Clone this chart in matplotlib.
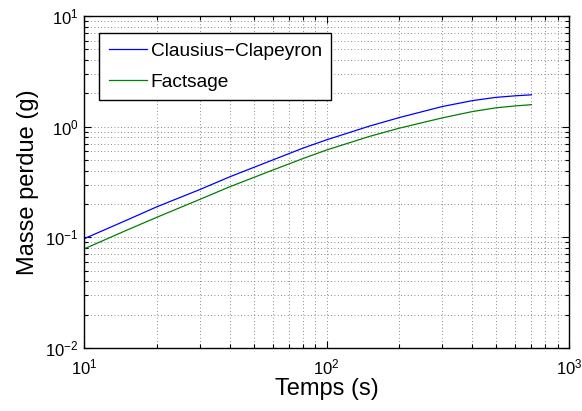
import matplotlib
matplotlib.use("Agg")
import matplotlib.pyplot as plt
from matplotlib.ticker import LogLocator, NullFormatter

plt.rcParams['font.family'] = ['Liberation Sans', 'DejaVu Sans']
plt.rcParams['mathtext.fontset'] = 'custom'
plt.rcParams['mathtext.rm'] = 'Liberation Sans'
plt.rcParams['mathtext.it'] = 'Liberation Sans'

temps = [10, 15, 20, 30, 40, 60, 80, 100, 150, 200, 300, 400, 500, 600, 700]
clausius = [0.097, 0.143, 0.189, 0.27, 0.353, 0.50, 0.64, 0.76, 1.01, 1.21, 1.52, 1.72, 1.84, 1.90, 1.94]
factsage = [0.0785, 0.116, 0.152, 0.22, 0.287, 0.405, 0.515, 0.615, 0.815, 0.97, 1.20, 1.37, 1.48, 1.54, 1.58]
labels = ["Clausius\u2212Clapeyron", "Factsage"]

fig = plt.figure(figsize=(5.82, 4.11), dpi=100)
ax = fig.add_axes([84/582, 1-348/411, 485/582, 332/411])
ax.plot(temps, clausius, color='#0000ff', lw=0.9, label=labels[0])
ax.plot(temps, factsage, color='#008000', lw=0.9, label=labels[1])
ax.set_xscale('log')
ax.set_yscale('log')
ax.set_xlim(10, 1000)
ax.set_ylim(0.01, 10)
ax.xaxis.set_minor_locator(LogLocator(base=10, subs=range(2, 10), numticks=100))
ax.yaxis.set_minor_locator(LogLocator(base=10, subs=range(2, 10), numticks=100))
ax.xaxis.set_minor_formatter(NullFormatter())
ax.yaxis.set_minor_formatter(NullFormatter())
ax.set_xticks([10, 100, 1000])
ax.set_xticklabels([r'$10^{1}$', r'$10^{2}$', r'$10^{3}$'])
ax.set_yticks([0.01, 0.1, 1, 10])
ax.set_yticklabels([r'$10^{-2}$', r'$10^{-1}$', r'$10^{0}$', r'$10^{1}$'])
ax.tick_params(which='both', direction='in', top=True, right=True, labelsize=12, width=0.8)
ax.tick_params(which='major', length=5)
ax.tick_params(axis='x', which='major', pad=7)
ax.tick_params(axis='y', which='major', pad=4)
ax.tick_params(which='minor', length=3)
ax.grid(True, which='both', linestyle=(0, (1, 3)), color='#666666', lw=0.6)
for s in ax.spines.values():
    s.set_linewidth(1.0)
ax.set_xlabel('Temps (s)', fontsize=17, labelpad=0)
ax.set_ylabel('Masse perdue (g)', fontsize=17, labelpad=4)
leg = ax.legend(loc='upper left', bbox_to_anchor=(0.031, 0.9497), borderaxespad=0,
                fontsize=13.8, fancybox=False, framealpha=1, edgecolor='black',
                handlelength=2.0, handletextpad=0.2, borderpad=0.5, labelspacing=0.72)
leg.get_frame().set_linewidth(1.0)
fig.savefig('out.png', dpi=100)
